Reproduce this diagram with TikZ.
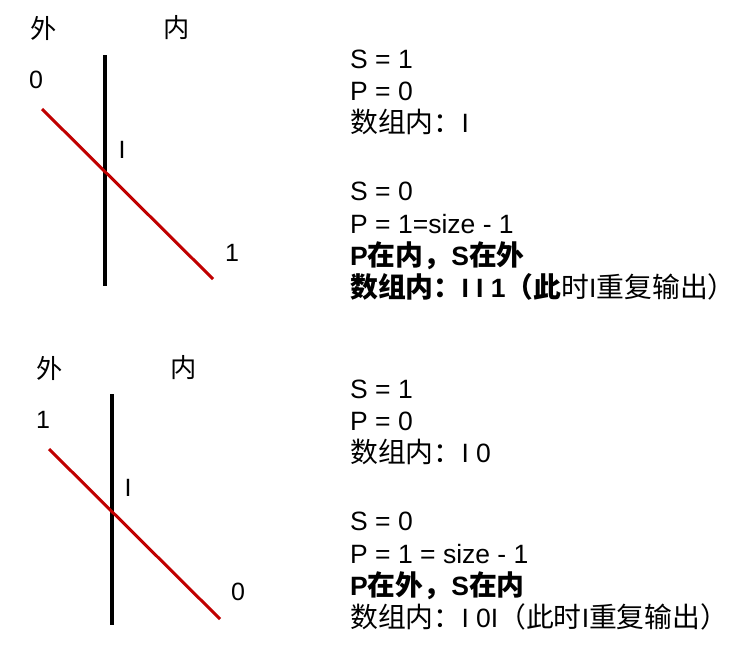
\documentclass[tikz,border=0pt]{standalone}
\usepackage{fontspec}
\setmainfont{Liberation Sans}
\newfontfamily\cjk[Scale=1.05]{Noto Sans CJK SC}
\usetikzlibrary{positioning}
\definecolor{rayred}{RGB}{192,0,0}
\newcommand{\zhtxt}[1]{{\cjk #1}}

\begin{document}
\begin{tikzpicture}[
    x=1pt, y=-1pt,
    wall/.style={line width=4pt},
    ray/.style={draw=rayred, line width=3pt},
    lbl/.style={inner sep=0pt, font=\fontsize{25}{30}\selectfont},
    info/.style={inner sep=0pt, anchor=base west, font=\fontsize{26.5}{32}\selectfont}
]
\useasboundingbox (0,0) rectangle (733,651);

% upper case: 0 outside, 1 inside
\node[lbl] (out1) at (44,28) {\zhtxt{外}};
\node[lbl] (in1) at (177,28) {\zhtxt{内}};
\coordinate (wtop1) at (105,55);
\coordinate (wbot1) at (105,286);
\draw[wall] (wtop1) -- (wbot1);
\coordinate (rs1) at (42,109);
\coordinate (re1) at (213,279);
\draw[ray] (rs1) -- (re1);
\node[lbl] (zero1) at (36,80) {0};
\node[lbl] (cut1) at (122,150) {I};
\node[lbl] (one1) at (232,253) {1};

\node[info] (sa1) at (350,68) {S = 1};
\node[info] (pa1) at (350,100) {P = 0};
\node[info] (arra1) at (350,132) {\zhtxt{数组内：}I};
\node[info] (sb1) at (350,200) {S = 0};
\node[info] (pb1) at (350,233) {P = 1=size - 1};
\node[info] (side1) at (350,265) {\bfseries P\zhtxt{在内，}S\zhtxt{在外}};
\node[info] (arrb1) at (350,297) {{\bfseries\zhtxt{数组内：}I I 1\zhtxt{（此}}\zhtxt{时}I\zhtxt{重复输出）}};

% lower case: 1 outside, 0 inside
\node[lbl] (out2) at (50,368) {\zhtxt{外}};
\node[lbl] (in2) at (184,368) {\zhtxt{内}};
\coordinate (wtop2) at (112,394);
\coordinate (wbot2) at (112,625);
\draw[wall] (wtop2) -- (wbot2);
\coordinate (rs2) at (49,449);
\coordinate (re2) at (220,619);
\draw[ray] (rs2) -- (re2);
\node[lbl] (one2) at (43,420) {1};
\node[lbl] (cut2) at (128,488) {I};
\node[lbl] (zero2) at (238,592) {0};

\node[info] (sa2) at (350,398) {S = 1};
\node[info] (pa2) at (350,430) {P = 0};
\node[info] (arra2) at (350,462) {\zhtxt{数组内：}I 0};
\node[info] (sb2) at (350,530) {S = 0};
\node[info] (pb2) at (350,563) {P = 1 = size - 1};
\node[info] (side2) at (350,595) {\bfseries P\zhtxt{在外，}S\zhtxt{在内}};
\node[info] (arrb2) at (350,627) {\zhtxt{数组内：}I 0I\zhtxt{（此时}I\zhtxt{重复输出）}};
\end{tikzpicture}
\end{document}
